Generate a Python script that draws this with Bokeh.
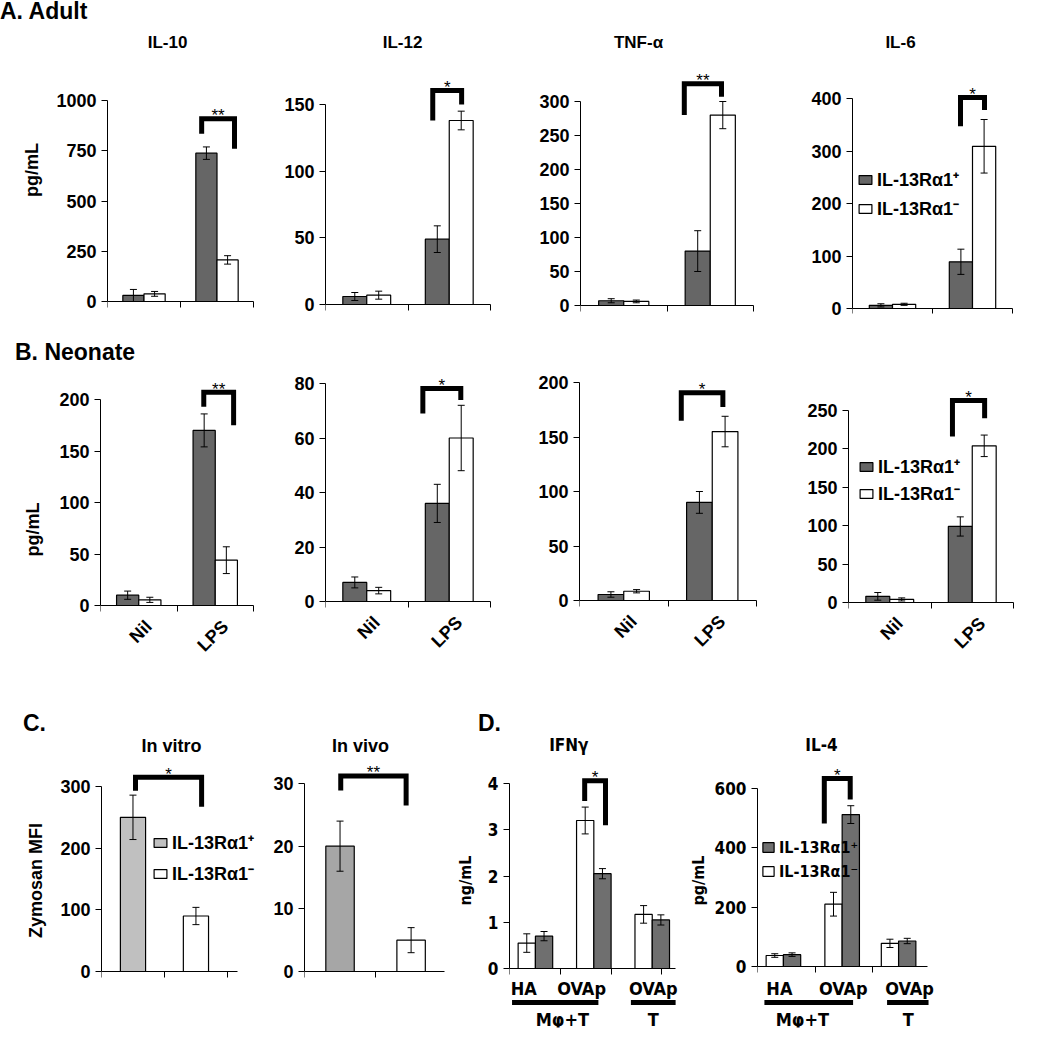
import math
from bokeh.plotting import figure
from bokeh.layouts import row, column
from bokeh.models import (FixedTicker, Whisker, TeeHead, ColumnDataSource, Legend,
                          LegendItem, Div, Range1d)
from bokeh.core.properties import value
from bokeh.embed import file_html
from bokeh.resources import INLINE

FONT = "Liberation Sans"
NARROW = "'Liberation Sans Narrow', 'Arial Narrow', 'DejaVu Sans Condensed', 'Liberation Sans', sans-serif"

# ---------------- data ----------------
SERIES = ["IL-13Rα1⁺", "IL-13Rα1⁻"]
AB_CATS = ["Nil", "LPS"]

# A. Adult  (values for Nil, LPS)
A_TITLES = ["IL-10", "IL-12", "TNF-α", "IL-6"]
A_YMAX = [1000, 150, 300, 400]
A_YTICKS = [[0, 250, 500, 750, 1000], [0, 50, 100, 150],
            [0, 50, 100, 150, 200, 250, 300], [0, 100, 200, 300, 400]]
A_POS = [[30, 738], [6, 49], [7, 80], [6, 89]]
A_POS_ERR = [[30, 31], [3, 10], [3, 30], [3, 24]]
A_NEG = [[38, 207], [7, 138], [6, 280], [8, 309]]
A_NEG_ERR = [[12, 21], [3, 7], [2, 20], [2, 51]]
A_SIG = ["**", "*", "**", "*"]
# bracket: left x, right x (category units), top, left-leg end, right-leg end (data units)
A_BRACKET = [[1.29, 1.74, 909, 834, 760], [1.30, 1.65, 160.5, 138, 150],
             [1.20, 1.63, 326, 280, 307], [1.35, 1.65, 402, 347, 378]]

# B. Neonate
B_YMAX = [200, 80, 200, 250]
B_YTICKS = [[0, 50, 100, 150, 200], [0, 20, 40, 60, 80],
            [0, 50, 100, 150, 200], [0, 50, 100, 150, 200, 250]]
B_POS = [[10, 170], [7, 36], [5.5, 90], [8, 99]]
B_POS_ERR = [[4, 16], [2, 7], [2.5, 10], [5, 12.5]]
B_NEG = [[5.5, 44], [4, 60], [8.5, 155], [4, 204]]
B_NEG_ERR = [[2.5, 13], [1.2, 12], [1.5, 14], [2, 14]]
B_SIG = ["**", "*", "*", "*"]
B_BRACKET = [[1.35, 1.74, 207, 193, 175], [1.18, 1.64, 78.2, 69, 73.9],
             [1.15, 1.62, 190.5, 165, 177.6], [1.26, 1.65, 263, 216, 240]]

# C. Zymosan MFI (IL-13Ra1+, IL-13Ra1-)
C_TITLES = ["In vitro", "In vivo"]
C_YMAX = [300, 30]
C_YTICKS = [[0, 100, 200, 300], [0, 10, 20, 30]]
C_POS = [250, 20]
C_POS_ERR = [36, 4]
C_NEG = [90, 5]
C_NEG_ERR = [14, 2]
C_SIG = ["*", "**"]
C_BRACKET = [[0.54, 1.59, 315, 293, 267], [0.51, 1.43, 31.2, 28.9, 26.5]]

# D. (HA, OVAp, OVAp) -- white = IL-13Ra1-, dark = IL-13Ra1+
D_TITLES = ["IFNγ", "IL-4"]
D_YLABELS = ["ng/mL", "pg/mL"]
D_YMAX = [4, 600]
D_YTICKS = [[0, 1, 2, 3, 4], [0, 200, 400, 600]]
D_NEG = [[0.55, 3.2, 1.17], [37, 210, 78]]
D_NEG_ERR = [[0.2, 0.29, 0.19], [6, 40, 14]]
D_POS = [[0.7, 2.05, 1.05], [40, 512, 86]]
D_POS_ERR = [[0.1, 0.11, 0.11], [6, 30, 9]]
D_SIG = ["*", "*"]
D_BRACKET = [[1.48, 1.89, 4.06, 3.62, 3.1], [1.16, 1.61, 634, 482, 563]]
D_XLABELS = ["HA", "OVAp", "OVAp"]
D_GROUPS = ["Mφ+T", "T"]

# ---------------- layout (reference pixels) ----------------
A_GEO = [dict(x0=0, x1=262, axis=107, xend=253, y0=301, ytop=100),
         dict(x0=262, x1=520, axis=325, xend=490, y0=304, ytop=104),
         dict(x0=520, x1=790, axis=580, xend=753, y0=305, ytop=101),
         dict(x0=790, x1=1048, axis=852, xend=1012, y0=308, ytop=98)]
A_TITLE_PX = [167, 402, 638, 900]
B_GEO = [dict(x0=0, x1=262, axis=100, xend=253, y0=605, ytop=399),
         dict(x0=262, x1=520, axis=325, xend=490, y0=601, ytop=383),
         dict(x0=520, x1=790, axis=579, xend=756, y0=600, ytop=382),
         dict(x0=790, x1=1048, axis=848, xend=1013, y0=602, ytop=410)]
C_GEO = [dict(x0=0, x1=262, axis=101, xend=237, y0=971, ytop=786),
         dict(x0=262, x1=452, axis=304, xend=444, y0=971, ytop=783)]
C_XEND = [2.16, 1.97]
C_TITLE_PX = [171, 360]
D_GEO = [dict(x0=452, x1=685, axis=507, xend=675, y0=968, ytop=783),
         dict(x0=685, x1=1048, axis=739, xend=920, y0=966, ytop=788)]
D_XEND = [3.27, 2.96]
D_TITLE_PX = [567, 807]
D_GROUP_X = [[0.51, 1.66, 2.81], [0.45, 1.47, 2.45]]
D_BAR_W = [0.34, 0.30]
D_LABEL_X = [[0.28, 1.42, 2.83], [0.38, 1.49, 2.64]]
D_LINES = [[(0.05, 1.75), (2.39, 3.27)], [(0.12, 1.66), (2.25, 2.97)]]
D_GROUP_LABEL_X = [[1.04, 2.83], [0.78, 2.62]]

DARK = "#666666"


def base_fig(g, top, bottom, mb, xend_cat, ymax, yticks, tick_font=FONT, tick_size="18px"):
    fb = bottom - mb
    ppu = (g["y0"] - g["ytop"]) / ymax
    cat = (g["xend"] - g["axis"]) / xend_cat
    p = figure(width=g["x1"] - g["x0"], height=bottom - top,
               x_range=Range1d(0, (g["x1"] - g["axis"]) / cat),
               y_range=Range1d(-(fb - g["y0"]) / ppu, (g["y0"] - top) / ppu),
               min_border_left=g["axis"] - g["x0"], min_border_right=0,
               min_border_top=0, min_border_bottom=mb,
               output_backend="svg", toolbar_location=None, outline_line_color=None,
               background_fill_color="white", border_fill_color="white", margin=0)
    p.grid.visible = False
    ya = p.yaxis[0]
    ya.ticker = FixedTicker(ticks=yticks, minor_ticks=[])
    ya.bounds = (0, ymax)
    ya.major_tick_out = 6
    ya.major_tick_in = 0
    ya.minor_tick_out = 0
    ya.minor_tick_in = 0
    ya.axis_line_color = "black"
    ya.major_tick_line_color = "black"
    ya.major_label_text_font = tick_font
    ya.major_label_text_font_size = tick_size
    ya.major_label_text_font_style = "bold"
    ya.major_label_text_color = "black"
    ya.major_label_standoff = 5
    ya.axis_label_text_font = tick_font
    ya.axis_label_text_font_style = "bold"
    ya.axis_label_text_font_size = tick_size
    ya.axis_label_text_color = "black"
    xa = p.xaxis[0]
    xa.fixed_location = 0
    xa.bounds = (0, xend_cat)
    xa.axis_line_color = "black"
    xa.major_tick_out = 0
    xa.major_tick_in = 0
    xa.minor_tick_out = 6
    xa.minor_tick_in = 0
    xa.minor_tick_line_color = "black"
    xa.ticker = FixedTicker(ticks=[], minor_ticks=list(range(int(math.floor(xend_cat)) + 1)))

    def fx(px):
        return (px - g["axis"]) / cat

    def fy(py):
        return (g["y0"] - py) / ppu
    return p, fx, fy, fb


def bars(p, xs, vals, errs, width, fill):
    r = p.vbar(x=xs, top=vals, width=width, fill_color=fill, line_color="black", line_width=1.2)
    src = ColumnDataSource(dict(x=xs, lo=[v - e for v, e in zip(vals, errs)],
                                hi=[v + e for v, e in zip(vals, errs)]))
    w = Whisker(source=src, base="x", lower="lo", upper="hi", line_color="black", line_width=1,
                lower_head=TeeHead(size=7, line_width=1, line_color="black"),
                upper_head=TeeHead(size=7, line_width=1, line_color="black"),
                level="overlay")
    p.add_layout(w)
    return r


def bracket(p, br, sig):
    l, r, top, lb, rb = br
    p.multi_line(xs=[[l, l, r, r]], ys=[[lb, top, top, rb]], line_color="black",
                 line_width=5, line_join="miter")
    p.text(x=[(l + r) / 2], y=[top], text=[sig], text_align="center",
           text_baseline="alphabetic", y_offset=-3, text_font=value(FONT),
           text_font_size="17px", text_color="black")


def title(p, x, y, t, font=FONT, size="17px"):
    p.text(x=[x], y=[y], text=[t], text_align="center", text_baseline="middle",
           text_font=value(font), text_font_size=size, text_font_style="bold",
           text_color="black")


def legend(p, g, fb, sx, c1, c2, renderers, font=FONT, size="18px", gw=16, gh=11):
    items = [LegendItem(label=s, renderers=[r]) for s, r in zip(SERIES, renderers)]
    lh = 20
    leg = Legend(items=items, location=(sx - g["axis"], fb - (c2 + lh / 2)),
                 orientation="vertical", label_height=lh, spacing=int(c2 - c1 - lh),
                 glyph_width=gw, glyph_height=gh, padding=0, margin=0, label_standoff=4,
                 border_line_alpha=0, background_fill_alpha=0, label_text_font=font,
                 label_text_font_size=size, label_text_font_style="bold",
                 label_text_color="black")
    p.add_layout(leg)


def ab_chart(g, top, bottom, mb, ymax, yticks, pos, pos_err, neg, neg_err, br, sig, rotated):
    p, fx, fy, fb = base_fig(g, top, bottom, mb, 2, ymax, yticks)
    centers = [0.5, 1.5]
    r1 = bars(p, [c - 0.145 for c in centers], pos, pos_err, 0.29, DARK)
    r2 = bars(p, [c + 0.145 for c in centers], neg, neg_err, 0.29, "white")
    bracket(p, br, sig)
    if rotated:
        dx = fx(g["axis"] + 10) - fx(g["axis"])
        p.text(x=[c + dx for c in centers], y=[fy(g["y0"] + 18)] * 2, text=AB_CATS,
               angle=math.pi / 4, text_align="right", text_baseline="middle",
               text_font=value(FONT), text_font_size="18px", text_font_style="bold",
               text_color="black")
    return p, fx, fy, fb, [r1, r2]


def label_div(text, width, height, left, top, size=23):
    html = ("<div style=\"position:relative;left:%dpx;top:%dpx;font-family:'Liberation Sans',Arial,sans-serif;"
            "font-weight:bold;font-size:%dpx;line-height:1;white-space:nowrap;color:black\">%s</div>"
            % (left, top, size, text))
    return Div(text=html, width=width, height=height, margin=0)


# ---------------- Row A ----------------
A_TOP, A_BOT, A_MB = 26, 325, 12
row_a = []
for i in range(4):
    g = A_GEO[i]
    p, fx, fy, fb, rs = ab_chart(g, A_TOP, A_BOT, A_MB, A_YMAX[i], A_YTICKS[i], A_POS[i],
                                 A_POS_ERR[i], A_NEG[i], A_NEG_ERR[i], A_BRACKET[i],
                                 A_SIG[i], False)
    title(p, fx(A_TITLE_PX[i]), fy(42), A_TITLES[i])
    if i == 0:
        p.yaxis[0].axis_label = "pg/mL"
        p.yaxis[0].axis_label_standoff = 11
    if i == 3:
        legend(p, g, fb, 857, 185, 210, rs)
    row_a.append(p)

# ---------------- Row B ----------------
B_TOP, B_BOT, B_MB = 365, 705, 12
row_b = []
for i in range(4):
    g = B_GEO[i]
    p, fx, fy, fb, rs = ab_chart(g, B_TOP, B_BOT, B_MB, B_YMAX[i], B_YTICKS[i], B_POS[i],
                                 B_POS_ERR[i], B_NEG[i], B_NEG_ERR[i], B_BRACKET[i],
                                 B_SIG[i], True)
    if i == 0:
        p.yaxis[0].axis_label = "pg/mL"
        p.yaxis[0].axis_label_standoff = 13
    if i == 3:
        legend(p, g, fb, 858, 472, 495, rs)
    row_b.append(p)

# ---------------- Row C / D ----------------
CD_TOP, CD_BOT, CD_MB = 733, 1037, 10
row_cd = []
C_FILLS = ["#c0c0c0", "#a6a6a6"]
for i in range(2):
    g = C_GEO[i]
    p, fx, fy, fb = base_fig(g, CD_TOP, CD_BOT, CD_MB, C_XEND[i], C_YMAX[i], C_YTICKS[i])
    r1 = bars(p, [0.5], [C_POS[i]], [C_POS_ERR[i]], 0.4, C_FILLS[i])
    r2 = bars(p, [1.5], [C_NEG[i]], [C_NEG_ERR[i]], 0.4, "white")
    bracket(p, C_BRACKET[i], C_SIG[i])
    title(p, fx(C_TITLE_PX[i]), fy(745), C_TITLES[i], size="18px")
    if i == 0:
        p.yaxis[0].axis_label = "Zymosan MFI"
        p.yaxis[0].axis_label_standoff = 11
        legend(p, g, fb, 152, 848, 875, [r1, r2])
    row_cd.append(p)

for i in range(2):
    g = D_GEO[i]
    p, fx, fy, fb = base_fig(g, CD_TOP, CD_BOT, CD_MB, D_XEND[i], D_YMAX[i], D_YTICKS[i],
                             tick_font=NARROW, tick_size="17px")
    p.yaxis[0].axis_label = D_YLABELS[i]
    p.yaxis[0].axis_label_text_font_size = "16px"
    p.yaxis[0].axis_label_standoff = 10 if i == 0 else 4
    w = D_BAR_W[i]
    cx = D_GROUP_X[i]
    r_neg = bars(p, [c - w / 2 for c in cx], D_NEG[i], D_NEG_ERR[i], w, "white")
    r_pos = bars(p, [c + w / 2 for c in cx], D_POS[i], D_POS_ERR[i], w, "#6f6f6f")
    bracket(p, D_BRACKET[i], D_SIG[i])
    title(p, fx(D_TITLE_PX[i]), fy(744), D_TITLES[i], font=NARROW, size="17px")
    p.text(x=D_LABEL_X[i], y=[fy(988)] * 3, text=D_XLABELS, text_align="center",
           text_baseline="middle", text_font=value(NARROW), text_font_size="18px",
           text_font_style="bold", text_color="black")
    p.multi_line(xs=[list(seg) for seg in D_LINES[i]], ys=[[fy(1002)] * 2] * 2,
                 line_color="black", line_width=5)
    p.text(x=D_GROUP_LABEL_X[i], y=[fy(1019)] * 2, text=D_GROUPS, text_align="center",
           text_baseline="middle", text_font=value(NARROW), text_font_size="18px",
           text_font_style="bold", text_color="black")
    if i == 1:
        legend(p, g, fb, 743, 847, 871, [r_pos, r_neg], font=NARROW, size="16px",
               gw=14, gh=12)
    row_cd.append(p)

div_a = label_div("A. Adult", 1048, 26, 0, 0)
div_b = label_div("B. Neonate", 1048, 40, 15, 16)
div_c = label_div("C.", 470, 28, 23, 7)
div_d = label_div("D.", 578, 28, 8, 7)

layout = column(div_a, row(*row_a, spacing=0), div_b, row(*row_b, spacing=0),
                row(div_c, div_d, spacing=0), row(*row_cd, spacing=0), spacing=0)

open("out.html", "w").write(file_html(layout, INLINE))
